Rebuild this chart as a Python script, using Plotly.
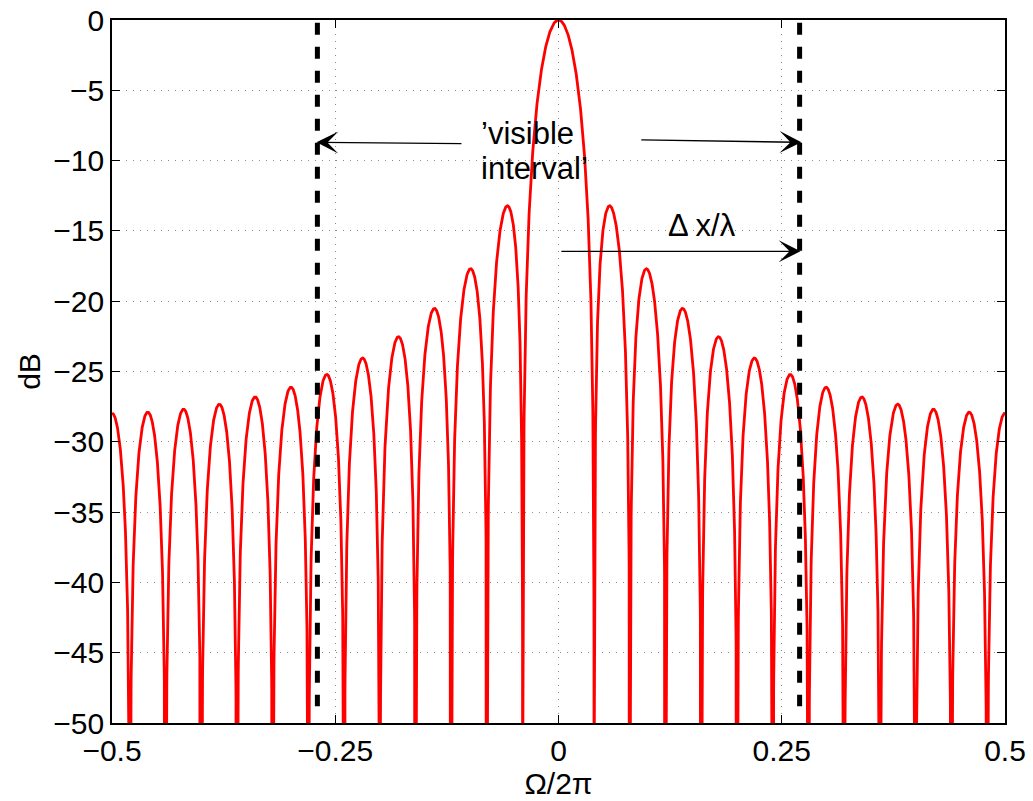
import numpy as np
import plotly.graph_objects as go

# ---- values ----
n_elements = 25                      # nulls every 0.04 in Omega/2pi -> 25-element uniform array
x_range = [-0.5, 0.5]
y_range = [-50, 0]
visible_edges = [-0.27, 0.27]        # dashed 'visible interval' limits
visible_line_y = [-0.2, -48.8]
x_ticks = [-0.5, -0.25, 0, 0.25, 0.5]
x_tick_text = ["\u22120.5", "\u22120.25", "0", "0.25", "0.5"]
y_ticks = [0, -5, -10, -15, -20, -25, -30, -35, -40, -45, -50]
y_tick_text = ["0" if v == 0 else "\u2212" + str(-v) for v in y_ticks]

# array-factor curve of the uniform array (the plotted function)
f = np.linspace(x_range[0], x_range[1], 8001)
num = np.sin(n_elements * np.pi * f)
den = n_elements * np.sin(np.pi * f)
with np.errstate(divide="ignore", invalid="ignore"):
    af = np.where(np.abs(den) < 1e-12, 1.0, num / den)
    db = 20 * np.log10(np.maximum(np.abs(af), 1e-10))

FONT = "Liberation Sans, Arial, Helvetica, sans-serif"
FS = 30
FS_ANN = 31

fig = go.Figure()
fig.add_trace(go.Scatter(x=f, y=db, mode="lines",
                         line=dict(color="#ff0000", width=2.8),
                         showlegend=False, hoverinfo="skip"))
for xe in visible_edges:
    fig.add_trace(go.Scatter(x=[xe, xe], y=visible_line_y, mode="lines",
                             line=dict(color="black", width=5, dash="12px,12px"),
                             showlegend=False, hoverinfo="skip"))

# arrows (tail -> tip)
arrows = [
    ((-0.107, -8.80), (-0.271, -8.70)),
    ((0.091, -8.53), (0.272, -8.70)),
    ((0.0015, -16.45), (0.271, -16.45)),
]
for (tx, ty), (hx, hy) in arrows:
    fig.add_annotation(x=hx, y=hy, ax=tx, ay=ty, xref="x", yref="y",
                       axref="x", ayref="y", text="", showarrow=True,
                       arrowhead=3, arrowsize=2.8, arrowwidth=1.3,
                       arrowcolor="black")

texts = [
    ("\u2019visible", -0.0885, -8.04, "left"),
    ("interval\u2019", -0.0885, -10.53, "left"),
    ("\u0394 x/\u03bb", 0.1602, -14.65, "center"),
]
for t, tx, ty, anc in texts:
    fig.add_annotation(x=tx, y=ty, xref="x", yref="y", text=t, showarrow=False,
                       xanchor=anc, yanchor="middle",
                       font=dict(family=FONT, size=FS_ANN, color="black"))

axis_common = dict(showline=True, linecolor="black", linewidth=1.6,
                   mirror="allticks", ticks="inside", ticklen=8, tickwidth=1,
                   tickcolor="black", showgrid=True, gridcolor="#8a8a8a",
                   gridwidth=1, griddash="1px,6px", zeroline=False,
                   tickfont=dict(family=FONT, size=FS, color="black"))

fig.update_xaxes(range=x_range, tickvals=x_ticks, ticktext=x_tick_text,
                 title=dict(text="\u03a9/2\u03c0", font=dict(family=FONT, size=FS, color="black"),
                            standoff=2),
                 **axis_common)
fig.update_yaxes(range=y_range, tickvals=y_ticks, ticktext=y_tick_text,
                 title=dict(text="dB", font=dict(family=FONT, size=FS, color="black"),
                            standoff=4),
                 **axis_common)

fig.update_layout(width=1033, height=801,
                  margin=dict(l=112, r=28, t=20, b=78, autoexpand=False),
                  paper_bgcolor="white", plot_bgcolor="white",
                  font=dict(family=FONT, size=FS, color="black"))

fig.write_html("out.html")
